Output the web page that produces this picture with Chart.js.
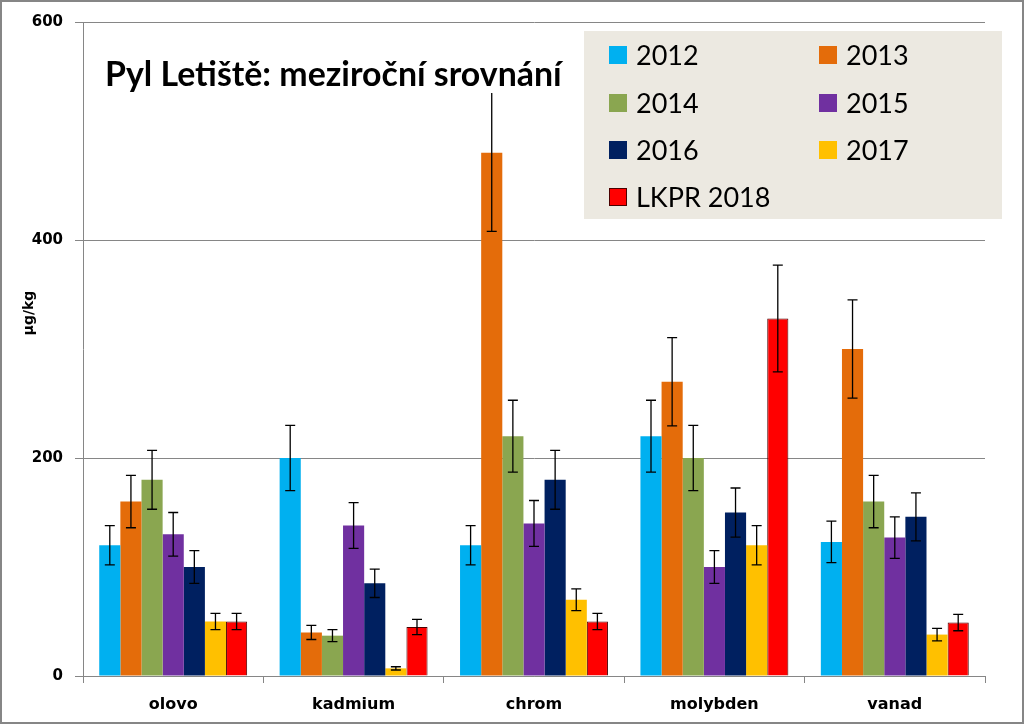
<!DOCTYPE html>
<html>
<head>
<meta charset="utf-8">
<script src="https://cdn.jsdelivr.net/npm/chart.js@4/dist/chart.umd.min.js"></script>
<style>
  body { margin: 0; background: #fff; }
</style>
</head>
<body>
<canvas id="graf" width="1024" height="724"></canvas>
<script>
// --- Data ---
const kategorie = ['olovo', 'kadmium', 'chrom', 'molybden', 'vanad'];
const roky = ['2012', '2013', '2014', '2015', '2016', '2017', 'LKPR 2018'];
const yTicks = [0, 200, 400, 600];

const h2012 = [120, 200, 120, 220, 123];
const h2013 = [160, 40, 480, 270, 300];
const h2014 = [180, 37, 220, 200, 160];
const h2015 = [130, 138, 140, 100, 127];
const h2016 = [100, 85, 180, 150, 146];
const h2017 = [50, 7, 70, 120, 38];
const h2018 = [50, 45, 50, 328, 49];

// chyby (+/-)
const e2012 = [18, 30, 18, 33, 19];
const e2013 = [24, 6.5, 72, 40.5, 45];
const e2014 = [27, 5.5, 33, 30, 24];
const e2015 = [20, 21, 21, 15, 19];
const e2016 = [15, 13, 27, 22.5, 22];
const e2017 = [7.5, 1.5, 10, 18, 5.7];
const e2018 = [7.5, 7, 7.5, 49, 7.5];

const hodnoty = [h2012, h2013, h2014, h2015, h2016, h2017, h2018];
const chyby = [e2012, e2013, e2014, e2015, e2016, e2017, e2018];
const barvy = ['#00B0F0', '#E46C0A', '#8AA650', '#7030A0', '#002060', '#FFC000', '#FF0000'];

const sedá = '#868686';

// --- Error bars, title, legend ---
const doplnky = {
  id: 'doplnky',
  afterDatasetsDraw(chart) {
    const ctx = chart.ctx;
    const y = chart.scales.y;
    ctx.save();
    ctx.strokeStyle = '#000';
    ctx.lineWidth = 1.3;
    chart.data.datasets.forEach((ds, i) => {
      chart.getDatasetMeta(i).data.forEach((bar, j) => {
        const v = ds.data[j];
        const e = ds.chyby[j];
        const yt = y.getPixelForValue(v + e);
        const yb = y.getPixelForValue(v - e);
        ctx.beginPath();
        ctx.moveTo(bar.x, yt); ctx.lineTo(bar.x, yb);
        ctx.moveTo(bar.x - 5, yt); ctx.lineTo(bar.x + 5, yt);
        ctx.moveTo(bar.x - 5, yb); ctx.lineTo(bar.x + 5, yb);
        ctx.stroke();
      });
    });

    // titulek (bílé pozadí jako textové pole)
    ctx.fillStyle = '#fff';
    ctx.fillRect(95, 40, 477, 53);
    ctx.fillStyle = '#000';
    ctx.textBaseline = 'middle';
    ctx.textAlign = 'left';
    const titulek = 'Pyl Letiště: meziroční srovnání';
    let fs = 30;
    ctx.font = 'bold ' + fs + 'px Lato';
    fs = fs * 457 / ctx.measureText(titulek).width;
    ctx.font = 'bold ' + fs + 'px Lato';
    ctx.fillText(titulek, 105, 75);

    // legenda
    ctx.fillStyle = '#ECE9E1';
    ctx.fillRect(584, 31, 418, 188);
    const sloupce = [609, 819];
    const radky = [55, 103, 150, 197];
    ctx.font = '27px Lato';
    chart.data.datasets.forEach((ds, i) => {
      const sx = sloupce[i % 2];
      const sy = radky[Math.floor(i / 2)];
      ctx.fillStyle = ds.backgroundColor;
      ctx.fillRect(sx, sy - 9, 18, 18);
      if (ds.borderWidth) {
        ctx.strokeStyle = ds.borderColor;
        ctx.lineWidth = 1;
        ctx.strokeRect(sx + 0.5, sy - 8.5, 17, 17);
      }
      ctx.fillStyle = '#000';
      ctx.fillText(ds.label, sx + 27, sy + 1);
    });

    // popisek osy y
    ctx.save();
    ctx.translate(29, 313);
    ctx.rotate(-Math.PI / 2);
    ctx.textAlign = 'center';
    ctx.font = 'bold 14px "DejaVu Sans"';
    ctx.fillText('µg/kg', 0, 0);
    ctx.restore();

    // rámeček
    ctx.strokeStyle = sedá;
    ctx.lineWidth = 2;
    ctx.strokeRect(1, 1, 1022, 722);
    ctx.restore();
  }
};

new Chart(document.getElementById('graf'), {
  type: 'bar',
  data: {
    labels: kategorie,
    datasets: roky.map((r, i) => ({
      label: r,
      data: hodnoty[i],
      chyby: chyby[i],
      backgroundColor: barvy[i],
      borderColor: i === 6 ? '#4a0000' : barvy[i],
      borderWidth: i === 6 ? 1 : 0,
      barPercentage: 1,
      categoryPercentage: 0.82
    }))
  },
  options: {
    responsive: false,
    animation: false,
    layout: { padding: { top: 22, right: 39, bottom: 0, left: 0 } },
    plugins: {
      legend: { display: false },
      tooltip: { enabled: false }
    },
    scales: {
      x: {
        afterFit: s => { s.height = 48; },
        grid: { offset: true, drawOnChartArea: false, color: sedá, tickLength: 7 },
        border: { color: sedá },
        ticks: { color: '#000', font: { family: 'DejaVu Sans', size: 16, weight: 'bold' }, padding: 12 }
      },
      y: {
        min: 0,
        max: 600,
        afterFit: s => { s.width = 83; },
        afterBuildTicks: s => { s.ticks = yTicks.map(v => ({ value: v })); },
        grid: { color: sedá, tickLength: 8 },
        border: { color: sedá },
        ticks: { color: '#000', font: { family: 'DejaVu Sans', size: 15, weight: 'bold' }, padding: 12 }
      }
    }
  },
  plugins: [doplnky]
});
</script>
</body>
</html>
